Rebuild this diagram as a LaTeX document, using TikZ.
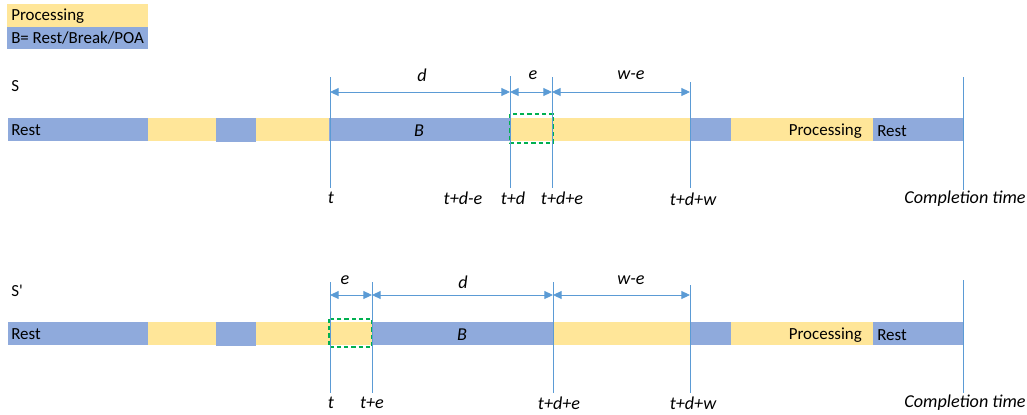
\documentclass[tikz,border=0pt]{standalone}
\usepackage{fontspec}
\setmainfont{Carlito}
\usetikzlibrary{arrows.meta}
\definecolor{procyellow}{HTML}{FFE699}
\definecolor{restblue}{HTML}{8FAADC}
\definecolor{lineblue}{HTML}{5B9BD5}
\definecolor{dashgreen}{HTML}{00B050}
\tikzset{
  tick/.style={draw=lineblue, line width=0.7pt},
  dim/.style={draw=lineblue, line width=0.7pt, {Triangle[length=6.5pt,width=6pt]}-{Triangle[length=6.5pt,width=6pt]}},
  lbl/.style={inner sep=0pt, font=\fontsize{13.6}{16}\selectfont\itshape},
  txt/.style={inner sep=0pt, font=\fontsize{12.7}{15}\selectfont},
  saved/.style={draw=dashgreen, line width=0.9pt, dash pattern=on 3.2pt off 2.2pt}
}
\begin{document}
\begin{tikzpicture}[x=0.75pt,y=-0.75pt]
  \useasboundingbox (0,0) rectangle (1027,414);
  \fill[procyellow] (7,4) rectangle (148,27);
  \fill[restblue] (7,27) rectangle (148,49);
  \node[txt, anchor=west] (legproc) at (11,16) {Processing};
  \node[txt, anchor=west] (legrest) at (11,38) {B= Rest/Break/POA};
  % schedule S
  \node[txt, anchor=west] (nameS) at (11,86) {S};
  \foreach \xa/\xb/\col in {8/148/restblue,148/216/procyellow,256/329/procyellow,329/510/restblue,510/690/procyellow,690/731/restblue,731/873/procyellow,873/963/restblue}
    \fill[\col] (\xa,118) rectangle (\xb,141);
  \fill[restblue] (216,118) rectangle (256,142);
  \draw[saved] (510,114) rectangle (553,143);
  \node[txt, anchor=west] (restS) at (11,130) {Rest};
  \node[lbl] (bS) at (419,131) {B};
  \node[txt, anchor=east] (procS) at (862,131) {Processing};
  \node[txt, anchor=west] (restSe) at (877,131) {Rest};
  \coordinate (s1t) at (330,77);  \coordinate (s1b) at (330,188);
  \coordinate (s2t) at (510,76);  \coordinate (s2b) at (510,188);
  \coordinate (s3t) at (552,77);  \coordinate (s3b) at (552,188);
  \coordinate (s4t) at (690,82);  \coordinate (s4b) at (690,188);
  \coordinate (s5t) at (963,77);  \coordinate (s5b) at (963,190);
  \foreach \n in {1,...,5}
    \draw[tick] (s\n t) -- (s\n b);
  \coordinate (s1a) at (330,92);
  \coordinate (s2a) at (510,92);
  \coordinate (s3a) at (552,92);
  \coordinate (s4a) at (690,92);
  \draw[dim] (s1a) -- (s2a);
  \draw[dim] (s2a) -- (s3a);
  \draw[dim] (s3a) -- (s4a);
  \node[lbl] (dS) at (422,75) {d};
  \node[lbl] (eS) at (533,75) {e};
  \node[lbl] (weS) at (631,75) {w-e};
  \node[lbl] (tS) at (331,198) {t};
  \node[lbl] (tdeS) at (463,198) {t+d-e};
  \node[lbl] (tdS) at (513,198) {t+d};
  \node[lbl] (tdpeS) at (562,198) {t+d+e};
  \node[lbl] (tdwS) at (693,199) {t+d+w};
  \node[lbl] (endS) at (965,199) {Completion time};
  % schedule S'
  \node[txt, anchor=west] (nameSp) at (11,291) {S\textquotesingle};
  \foreach \xa/\xb/\col in {8/148/restblue,148/216/procyellow,256/329/procyellow,329/372/procyellow,372/553/restblue,553/690/procyellow,690/731/restblue,731/873/procyellow,873/963/restblue}
    \fill[\col] (\xa,322) rectangle (\xb,345);
  \fill[restblue] (216,322) rectangle (256,346);
  \draw[saved] (329,319) rectangle (372,347);
  \node[txt, anchor=west] (restSp) at (11,334) {Rest};
  \node[lbl] (bSp) at (462,335) {B};
  \node[txt, anchor=east] (procSp) at (862,335) {Processing};
  \node[txt, anchor=west] (restSpe) at (877,335) {Rest};
  \coordinate (p1t) at (330,282);  \coordinate (p1b) at (330,393);
  \coordinate (p2t) at (372,282);  \coordinate (p2b) at (372,393);
  \coordinate (p3t) at (553,282);  \coordinate (p3b) at (553,393);
  \coordinate (p4t) at (690,285);  \coordinate (p4b) at (690,393);
  \coordinate (p5t) at (963,280);  \coordinate (p5b) at (963,393);
  \foreach \n in {1,...,5}
    \draw[tick] (p\n t) -- (p\n b);
  \coordinate (p1a) at (330,295);
  \coordinate (p2a) at (372,295);
  \coordinate (p3a) at (553,295);
  \coordinate (p4a) at (690,295);
  \draw[dim] (p1a) -- (p2a);
  \draw[dim] (p2a) -- (p3a);
  \draw[dim] (p3a) -- (p4a);
  \node[lbl] (eSp) at (345,280) {e};
  \node[lbl] (dSp) at (463,282) {d};
  \node[lbl] (weSp) at (631,280) {w-e};
  \node[lbl] (tSp) at (331,403) {t};
  \node[lbl] (teSp) at (372,403) {t+e};
  \node[lbl] (tdeSp) at (559,403) {t+d+e};
  \node[lbl] (tdwSp) at (693,403) {t+d+w};
  \node[lbl] (endSp) at (965,403) {Completion time};
\end{tikzpicture}
\end{document}
